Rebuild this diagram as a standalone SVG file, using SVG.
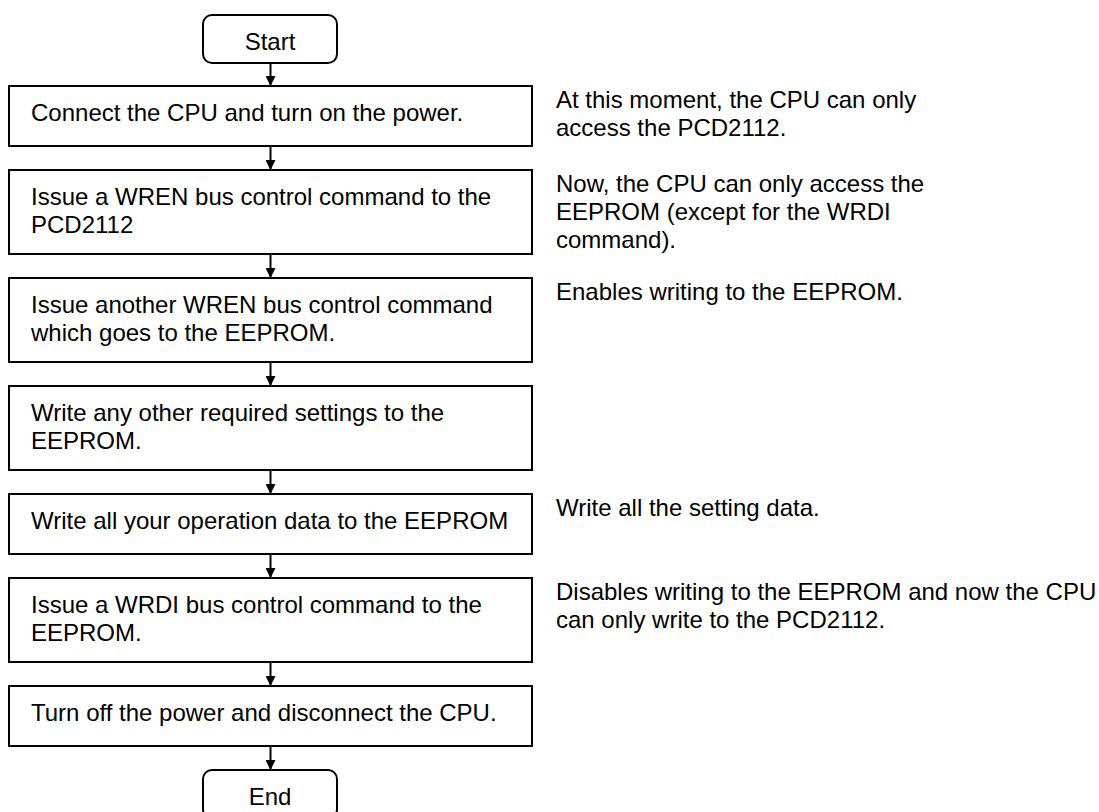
<svg xmlns="http://www.w3.org/2000/svg" width="1099" height="812" viewBox="0 0 1099 812">
<style>
.box{fill:#fff;stroke:#000;stroke-width:2}
.t{font-family:"Liberation Sans",Arial,sans-serif;font-size:24px;fill:#000}
.c{text-anchor:middle}
.arr{stroke:#000;stroke-width:2;fill:none;marker-end:url(#ah)}
</style>
<defs>
<marker id="ah" markerUnits="userSpaceOnUse" markerWidth="10" markerHeight="10" refX="10" refY="5" orient="auto">
<path d="M0,0 L10,5 L0,10 z" fill="#000"/>
</marker>
</defs>
<rect width="1099" height="812" fill="#fff"/>
<g id="connectors">
<line class="arr" x1="270.5" y1="63" x2="270.5" y2="86"/>
<line class="arr" x1="270.5" y1="146" x2="270.5" y2="170"/>
<line class="arr" x1="270.5" y1="254" x2="270.5" y2="278"/>
<line class="arr" x1="270.5" y1="362" x2="270.5" y2="386"/>
<line class="arr" x1="270.5" y1="470" x2="270.5" y2="494"/>
<line class="arr" x1="270.5" y1="554" x2="270.5" y2="578"/>
<line class="arr" x1="270.5" y1="662" x2="270.5" y2="686"/>
<line class="arr" x1="270.5" y1="746" x2="270.5" y2="770"/>
</g>
<g id="start">
<rect class="box" x="203" y="15" width="134" height="48" rx="9"/>
<text class="t c" x="270" y="50">Start</text>
</g>
<g id="step1">
<rect class="box" x="9" y="86" width="523" height="60"/>
<text class="t" x="31" y="121">Connect the CPU and turn on the power.</text>
</g>
<g id="step2">
<rect class="box" x="9" y="170" width="523" height="84"/>
<text class="t" x="31" y="205">Issue a WREN bus control command to the</text>
<text class="t" x="31" y="233">PCD2112</text>
</g>
<g id="step3">
<rect class="box" x="9" y="278" width="523" height="84"/>
<text class="t" x="31" y="313">Issue another WREN bus control command</text>
<text class="t" x="31" y="341">which goes to the EEPROM.</text>
</g>
<g id="step4">
<rect class="box" x="9" y="386" width="523" height="84"/>
<text class="t" x="31" y="421">Write any other required settings to the</text>
<text class="t" x="31" y="449">EEPROM.</text>
</g>
<g id="step5">
<rect class="box" x="9" y="494" width="523" height="60"/>
<text class="t" x="31" y="529">Write all your operation data to the EEPROM</text>
</g>
<g id="step6">
<rect class="box" x="9" y="578" width="523" height="84"/>
<text class="t" x="31" y="613">Issue a WRDI bus control command to the</text>
<text class="t" x="31" y="641">EEPROM.</text>
</g>
<g id="step7">
<rect class="box" x="9" y="686" width="523" height="60"/>
<text class="t" x="31" y="721">Turn off the power and disconnect the CPU.</text>
</g>
<g id="end">
<rect class="box" x="203" y="770" width="134" height="48" rx="9"/>
<text class="t c" x="270" y="805">End</text>
</g>
<g id="notes">
<text class="t" x="556" y="108">At this moment, the CPU can only</text>
<text class="t" x="556" y="136">access the PCD2112.</text>
<text class="t" x="556" y="192">Now, the CPU can only access the</text>
<text class="t" x="556" y="220">EEPROM (except for the WRDI</text>
<text class="t" x="556" y="248">command).</text>
<text class="t" x="556" y="300">Enables writing to the EEPROM.</text>
<text class="t" x="556" y="516">Write all the setting data.</text>
<text class="t" x="556" y="600">Disables writing to the EEPROM and now the CPU</text>
<text class="t" x="556" y="628">can only write to the PCD2112.</text>
</g>
</svg>
